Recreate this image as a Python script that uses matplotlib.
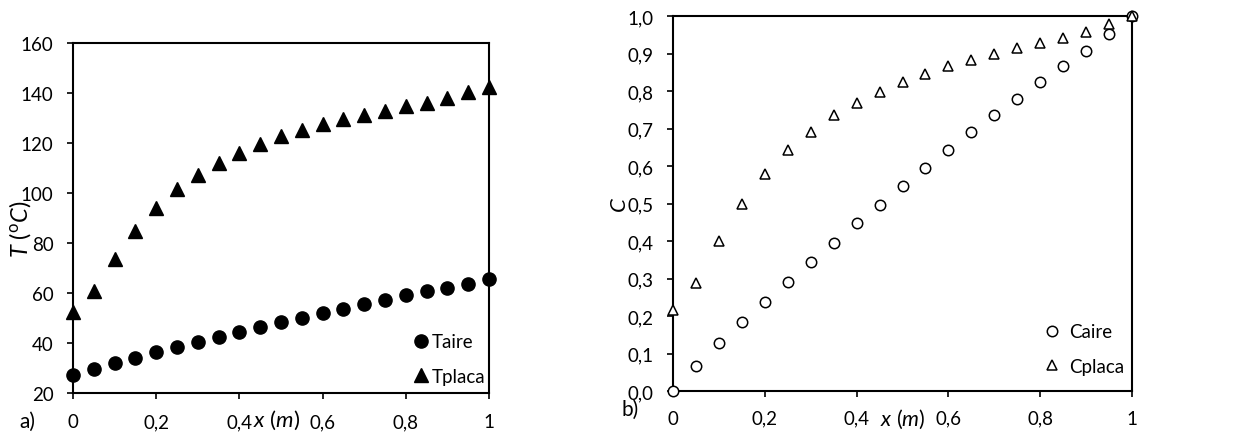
import numpy as np
import matplotlib
matplotlib.use('Agg')
import matplotlib.pyplot as plt

plt.rcParams['font.family'] = ['Lato', 'DejaVu Sans']
plt.rcParams['mathtext.fontset'] = 'custom'
plt.rcParams['mathtext.it'] = 'Lato:italic'
plt.rcParams['mathtext.rm'] = 'Lato'

# Data
x = [0, 0.05, 0.1, 0.15, 0.2, 0.25, 0.3, 0.35, 0.4, 0.45, 0.5,
     0.55, 0.6, 0.65, 0.7, 0.75, 0.8, 0.85, 0.9, 0.95, 1.0]
t_aire = [27.3, 29.7, 32.0, 34.1, 36.4, 38.4, 40.4, 42.4, 44.4, 46.4, 48.4,
          50.1, 52.0, 53.7, 55.5, 57.1, 59.1, 60.7, 62.0, 63.7, 65.5]
t_placa = [52.4, 60.7, 73.5, 85.0, 94.0, 101.5, 107.3, 112.0, 116.0, 119.5, 122.7,
           125.3, 127.5, 129.5, 131.3, 132.8, 134.7, 136.0, 138.0, 140.3, 142.4]
c_aire = [0.0, 0.066, 0.128, 0.184, 0.237, 0.291, 0.344, 0.395, 0.447, 0.495, 0.547,
          0.595, 0.644, 0.691, 0.735, 0.78, 0.824, 0.867, 0.908, 0.951, 1.0]
c_placa = [0.215, 0.288, 0.40, 0.50, 0.58, 0.642, 0.692, 0.735, 0.769, 0.797, 0.824,
           0.846, 0.866, 0.884, 0.898, 0.915, 0.929, 0.942, 0.957, 0.978, 1.0]

xticks = [0, 0.2, 0.4, 0.6, 0.8, 1.0]
xticklabels = ['0', '0,2', '0,4', '0,6', '0,8', '1']

fig = plt.figure(figsize=(12.35, 4.35), dpi=100)
fs = 13.5
tick_len = 4
xpad1 = 10.5
xpad2 = 9.5

# Panel a
ax1 = fig.add_axes([73/1235, 1 - 394/435, 416/1235, 350/435])
ax1.plot(x, t_aire, 'o', color='black', ms=9.5, clip_on=False, label='Taire')
ax1.plot(x, t_placa, '^', color='black', ms=9.5, clip_on=False, label='Tplaca')
ax1.set_xlim(0, 1)
ax1.set_ylim(20, 160)
ax1.set_yticks(range(20, 161, 20))
ax1.set_xticks(xticks)
ax1.set_xticklabels(xticklabels)
ax1.set_ylabel(r'$T$ ($^{\rm o}C$)', fontsize=17)
ax1.yaxis.set_label_coords(-0.095, 0.47)
ax1.annotate(r'$x$ ($m$)', xy=(0.49, 0), xycoords='axes fraction',
             xytext=(0, -(tick_len + xpad1 - 4)), textcoords='offset points',
             fontsize=16, ha='center', va='top')
ax1.text(27/1235, 1 - 412/435, 'a)', transform=fig.transFigure, fontsize=15,
         ha='center', va='top')
ax1.legend(loc='center', bbox_to_anchor=(0.9, 0.097), frameon=False,
           fontsize=fs, handletextpad=0.0, borderpad=0, labelspacing=0.95,
           handlelength=1.2)

# Panel b
ax2 = fig.add_axes([673/1235, 1 - 392/435, 459/1235, 375/435])
ax2.plot(x, c_aire, 'o', mfc='white', mec='black', mew=1.1, ms=7.5,
         clip_on=False, label='Caire', zorder=3)
ax2.plot(x, c_placa, '^', mfc='white', mec='black', mew=1.1, ms=7.5,
         clip_on=False, label='Cplaca', zorder=3)
ax2.set_xlim(0, 1)
ax2.set_ylim(0, 1)
yt = np.round(np.arange(0, 1.01, 0.1), 1)
ax2.set_yticks(yt)
ax2.set_yticklabels([('%.1f' % v).replace('.', ',') for v in yt])
ax2.set_xticks(xticks)
ax2.set_xticklabels(xticklabels)
ax2.set_ylabel(r'$C$', fontsize=16)
ax2.yaxis.set_label_coords(-0.094, 0.5)
ax2.annotate(r'$x$ ($m$)', xy=(0.5, 0), xycoords='axes fraction',
             xytext=(0, -(tick_len + xpad2 - 2)), textcoords='offset points',
             fontsize=15.5, ha='center', va='top')
ax2.text(630/1235, 1 - 400/435, 'b)', transform=fig.transFigure, fontsize=15,
         ha='center', va='top')
ax2.legend(loc='center', bbox_to_anchor=(0.89, 0.112), frameon=False,
           fontsize=fs, handletextpad=0.2, borderpad=0, labelspacing=0.95,
           handlelength=1.4)

for ax in (ax1, ax2):
    for s in ax.spines.values():
        s.set_linewidth(1.5)
        s.set_color('black')
    ax.tick_params(axis='both', labelsize=fs, width=1.2, length=tick_len,
                   direction='out')
    ax.tick_params(axis='y', pad=10)
ax1.tick_params(axis='x', pad=xpad1)
ax2.tick_params(axis='x', pad=xpad2)

fig.savefig('out.png', dpi=100)
